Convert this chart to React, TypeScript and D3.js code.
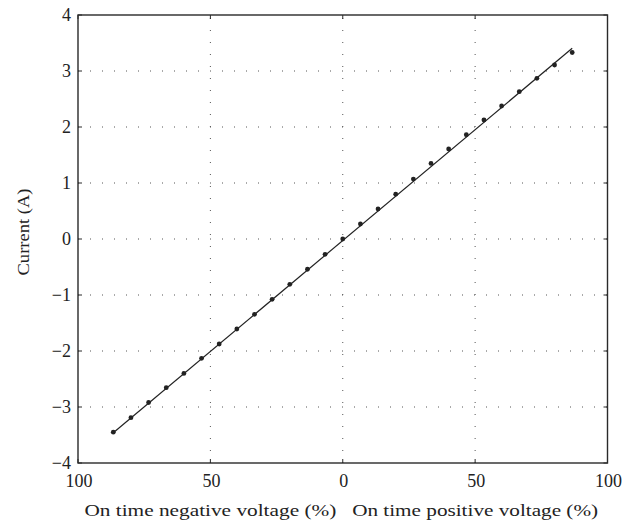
import React from "react";
import * as d3 from "d3";

const dutyX = [
  -86.67, -80, -73.33, -66.67, -60, -53.33, -46.67, -40, -33.33, -26.67, -20, -13.33, -6.67,
  0, 6.67, 13.33, 20, 26.67, 33.33, 40, 46.67, 53.33, 60, 66.67, 73.33, 80, 86.67,
];
const currentY = [
  -3.45, -3.19, -2.92, -2.655, -2.4, -2.13, -1.875, -1.607, -1.345, -1.077, -0.81, -0.54, -0.274,
  0, 0.268, 0.536, 0.8, 1.07, 1.35, 1.607, 1.862, 2.125, 2.375, 2.63, 2.87, 3.107, 3.33,
];
const fitX = [-86.67, 86.67];
const fitY = [-3.46, 3.405];
const xTicks = [-100, -50, 0, 50, 100];
const yTicks = [-4, -3, -2, -1, 0, 1, 2, 3, 4];
const xGrid = [-50, 0, 50];
const yGrid = [-3, -2, -1, 0, 1, 2, 3];
const xTitleLeft = "On time negative voltage (%)";
const xTitleRight = "On time positive voltage (%)";
const yTitle = "Current (A)";

const W = 632;
const H = 526;
const L = 78;
const R = 607.5;
const T = 15;
const B = 463;
const FONT = "'Liberation Serif', 'DejaVu Serif', serif";
const AX = "#2a2a2a";

export default function App() {
  const x = d3.scaleLinear().domain([-100, 100]).range([L, R]);
  const y = d3.scaleLinear().domain([-4, 4]).range([B, T]);
  const line = d3
    .line<number>()
    .x((_, i) => x(fitX[i]))
    .y((d) => y(d));
  const fmt = (v: number) => (v < 0 ? "\u2212" + Math.abs(v) : String(v));
  return (
    <svg
      width={W}
      height={H}
      style={{ position: "absolute", left: 0, top: 0, background: "#fff" }}
    >
      {xGrid.map((g) => (
        <line
          key={"gx" + g}
          x1={x(g)}
          x2={x(g)}
          y1={B}
          y2={T}
          stroke="#555"
          strokeWidth={1}
          strokeDasharray="1,11"
        />
      ))}
      {yGrid.map((g) => (
        <line
          key={"gy" + g}
          x1={L}
          x2={R}
          y1={y(g)}
          y2={y(g)}
          stroke="#555"
          strokeWidth={1}
          strokeDasharray="1,11"
        />
      ))}
      <path d={line(fitY) || ""} fill="none" stroke="#222" strokeWidth={1.2} />
      {dutyX.map((d, i) => (
        <circle key={"p" + i} cx={x(d)} cy={y(currentY[i])} r={2.4} fill="#222" />
      ))}
      <rect x={L} y={T} width={R - L} height={B - T} fill="none" stroke={AX} strokeWidth={1.4} />
      {yTicks.map((t) => (
        <g key={"yt" + t}>
          <line x1={L} x2={L + 4} y1={y(t)} y2={y(t)} stroke={AX} strokeWidth={1} />
          <line x1={R} x2={R - 4} y1={y(t)} y2={y(t)} stroke={AX} strokeWidth={1} />
          <text
            x={L - 7}
            y={y(t)}
            dy="0.35em"
            textAnchor="end"
            fontFamily={FONT}
            fontSize={18}
            fill="#222"
          >
            {fmt(t)}
          </text>
        </g>
      ))}
      {xTicks.map((t) => (
        <g key={"xt" + t}>
          <line x1={x(t)} x2={x(t)} y1={B} y2={B - 4} stroke={AX} strokeWidth={1} />
          <line x1={x(t)} x2={x(t)} y1={T} y2={T + 4} stroke={AX} strokeWidth={1} />
          <text
            x={x(t) + 1}
            y={B + 24}
            textAnchor="middle"
            fontFamily={FONT}
            fontSize={18}
            fill="#222"
          >
            {Math.abs(t)}
          </text>
        </g>
      ))}
      <text
        x={x(-50)}
        y={516}
        textAnchor="middle"
        fontFamily={FONT}
        fontSize={17}
        fill="#222"
        textLength={252}
        lengthAdjust="spacingAndGlyphs"
      >
        {xTitleLeft}
      </text>
      <text
        x={x(50)}
        y={516}
        textAnchor="middle"
        fontFamily={FONT}
        fontSize={17}
        fill="#222"
        textLength={246}
        lengthAdjust="spacingAndGlyphs"
      >
        {xTitleRight}
      </text>
      <text
        transform={`translate(29, 232) rotate(-90)`}
        textAnchor="middle"
        fontFamily={FONT}
        fontSize={17}
        fill="#222"
        textLength={87}
        lengthAdjust="spacingAndGlyphs"
      >
        {yTitle}
      </text>
    </svg>
  );
}
